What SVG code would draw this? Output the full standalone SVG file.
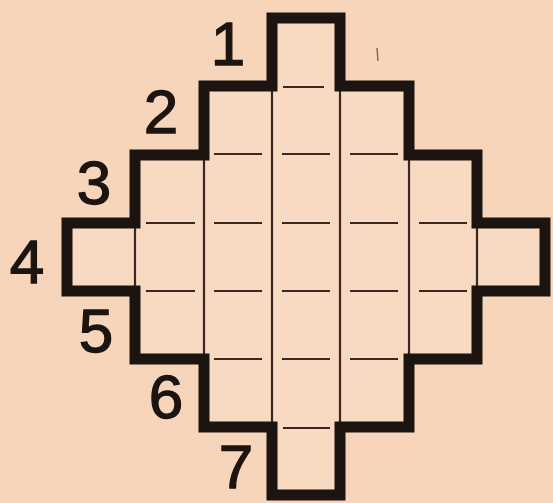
<svg xmlns="http://www.w3.org/2000/svg" width="553" height="503" viewBox="0 0 553 503">
<style>
.bg{fill:#F7D5BB}
.cell{fill:#F8D9C2}
.outline{fill:none;stroke:#1c1411;stroke-width:11;stroke-linejoin:miter;stroke-linecap:square}
.thin{fill:none;stroke:#3a281e;stroke-width:2.2}
.lbl{font-family:"Liberation Sans",Arial,sans-serif;font-size:62px;fill:#1c1411;stroke:#1c1411;stroke-width:1.3;text-anchor:middle}
</style>
<rect class="bg" x="0" y="0" width="553" height="503"/>
<g id="shape">
<path class="cell" d="M272,18 H340 V86 H409 V155 H477 V223 H545 V291 H477 V359 H409 V427 H340 V495 H272 V427 H204 V359 H135 V291 H67 V223 H135 V155 H204 V86 H272 Z"/>
</g>
<g id="grid">
<path class="thin" d="M272,86 V427 M340,86 V427 M204,155 V359 M409,155 V359 M135,223 V291 M477,223 V291"/>
<path class="thin" d="M283,87 H324
M214,154 H262 M282,154 H330 M350,154 H398
M146,223 H195 M214,223 H262 M282,223 H330 M350,223 H398 M419,223 H467
M146,291 H195 M214,291 H262 M282,291 H330 M350,291 H398 M419,291 H467
M214,359 H262 M282,359 H330 M350,359 H398
M283,428 H330"/>
</g>
<g id="outline">
<path class="outline" d="M272,18 H340 V86 H409 V155 H477 V223 H545 V291 H477 V359 H409 V427 H340 V495 H272 V427 H204 V359 H135 V291 H67 V223 H135 V155 H204 V86 H272 Z"/>
</g>
<path d="M377,48 L378,61" stroke="#8a6a58" stroke-width="1.5" fill="none"/>
<g id="labels">
<text class="lbl" x="228" y="65">1</text>
<text class="lbl" x="161" y="133">2</text>
<text class="lbl" x="94" y="204">3</text>
<text class="lbl" x="27" y="283">4</text>
<text class="lbl" x="96" y="352">5</text>
<text class="lbl" x="166" y="418">6</text>
<text class="lbl" x="236" y="488">7</text>
</g>
</svg>
